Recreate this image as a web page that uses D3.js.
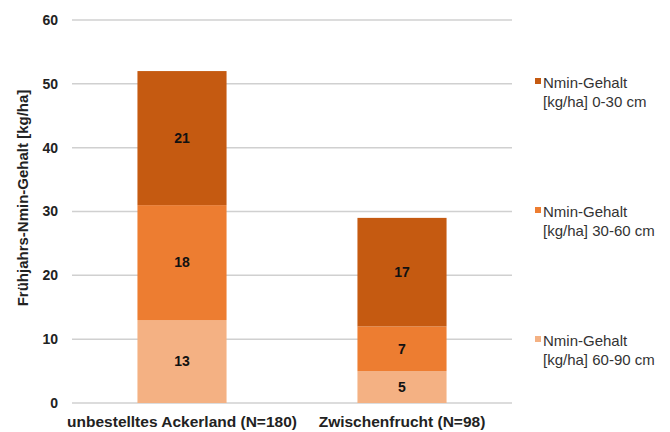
<!DOCTYPE html>
<html>
<head>
<meta charset="utf-8">
<script src="https://cdn.jsdelivr.net/npm/d3@7"></script>
<style>
  html, body { margin: 0; padding: 0; background: #fff; }
  svg { display: block; font-family: Arial, "Liberation Sans", sans-serif; }
</style>
</head>
<body>
<svg id="chart" width="670" height="432"></svg>
<script>
// Kategorien (Flächennutzung) und Nmin-Gehalte je Bodentiefe [kg/ha]
const categories = ["unbestelltes Ackerland (N=180)", "Zwischenfrucht (N=98)"];
const depth60to90 = [13, 5];
const depth30to60 = [18, 7];
const depth0to30  = [21, 17];
const seriesNames = [
  ["Nmin-Gehalt", "[kg/ha] 0-30 cm"],
  ["Nmin-Gehalt", "[kg/ha] 30-60 cm"],
  ["Nmin-Gehalt", "[kg/ha] 60-90 cm"]
];
const yTicks = [0, 10, 20, 30, 40, 50, 60];
const yTitle = "Frühjahrs-Nmin-Gehalt [kg/ha]";

const colors = { d0: "#C55A11", d30: "#ED7D31", d60: "#F4B183" };

const svg = d3.select("#chart");
const plotLeft = 72, plotRight = 512, plotTop = 20, plotBottom = 403;

const x = d3.scaleBand()
  .domain(categories)
  .range([plotLeft, plotRight])
  .paddingInner(0.595)
  .paddingOuter(0.2975);

const y = d3.scaleLinear().domain([0, 60]).range([plotBottom, plotTop]);

// Gitterlinien
svg.append("g")
  .selectAll("line")
  .data(yTicks)
  .join("line")
  .attr("x1", plotLeft).attr("x2", plotRight)
  .attr("y1", d => y(d)).attr("y2", d => y(d))
  .attr("stroke", "#d0d0d0")
  .attr("stroke-width", 1.5);

// Y-Achse (Beschriftung)
const yAxis = d3.axisLeft(y).tickValues(yTicks).tickSize(0).tickPadding(0);
const gy = svg.append("g").attr("transform", `translate(58,0)`).call(yAxis);
gy.select(".domain").remove();
gy.selectAll("text")
  .attr("font-size", 14)
  .attr("font-weight", "bold")
  .attr("fill", "#222")
  .attr("font-family", "Arial, 'Liberation Sans', sans-serif");

// Stapel aufbauen
const table = categories.map((c, i) => ({
  cat: c, d60: depth60to90[i], d30: depth30to60[i], d0: depth0to30[i]
}));
const stack = d3.stack().keys(["d60", "d30", "d0"]);
const layers = stack(table);

const gBars = svg.append("g");
layers.forEach(layer => {
  const key = layer.key;
  gBars.append("g")
    .selectAll("rect")
    .data(layer)
    .join("rect")
    .attr("x", d => x(d.data.cat))
    .attr("width", x.bandwidth())
    .attr("y", d => y(d[1]))
    .attr("height", d => y(d[0]) - y(d[1]))
    .attr("fill", colors[key]);

  gBars.append("g")
    .selectAll("text")
    .data(layer)
    .join("text")
    .attr("x", d => x(d.data.cat) + x.bandwidth() / 2)
    .attr("y", d => (y(d[0]) + y(d[1])) / 2)
    .attr("dy", "0.35em")
    .attr("text-anchor", "middle")
    .attr("font-size", 14)
    .attr("font-weight", "bold")
    .attr("fill", "#111")
    .text(d => d.data[key]);
});

// X-Achse (Kategorien)
const xAxis = d3.axisBottom(x).tickSize(0).tickPadding(0);
const gx = svg.append("g").attr("transform", `translate(0,${plotBottom})`).call(xAxis);
gx.select(".domain").remove();
gx.selectAll("text")
  .attr("y", 24)
  .attr("dy", 0)
  .attr("font-size", 15.5)
  .attr("font-weight", "bold")
  .attr("fill", "#222")
  .attr("font-family", "Arial, 'Liberation Sans', sans-serif");

// Achsentitel
svg.append("text")
  .attr("transform", `translate(28,198) rotate(-90)`)
  .attr("text-anchor", "middle")
  .attr("font-size", 15)
  .attr("font-weight", "bold")
  .attr("fill", "#222")
  .text(yTitle);

// Legende
const legendY = [88, 217, 346];
const legendColors = [colors.d0, colors.d30, colors.d60];
const lg = svg.append("g");
seriesNames.forEach((lines, i) => {
  lg.append("rect")
    .attr("x", 535).attr("y", legendY[i] - 10)
    .attr("width", 6).attr("height", 6)
    .attr("fill", legendColors[i]);
  lines.forEach((t, j) => {
    lg.append("text")
      .attr("x", 543)
      .attr("y", legendY[i] + j * 19)
      .attr("font-size", 15)
      .attr("fill", "#333")
      .text(t);
  });
});
</script>
</body>
</html>
